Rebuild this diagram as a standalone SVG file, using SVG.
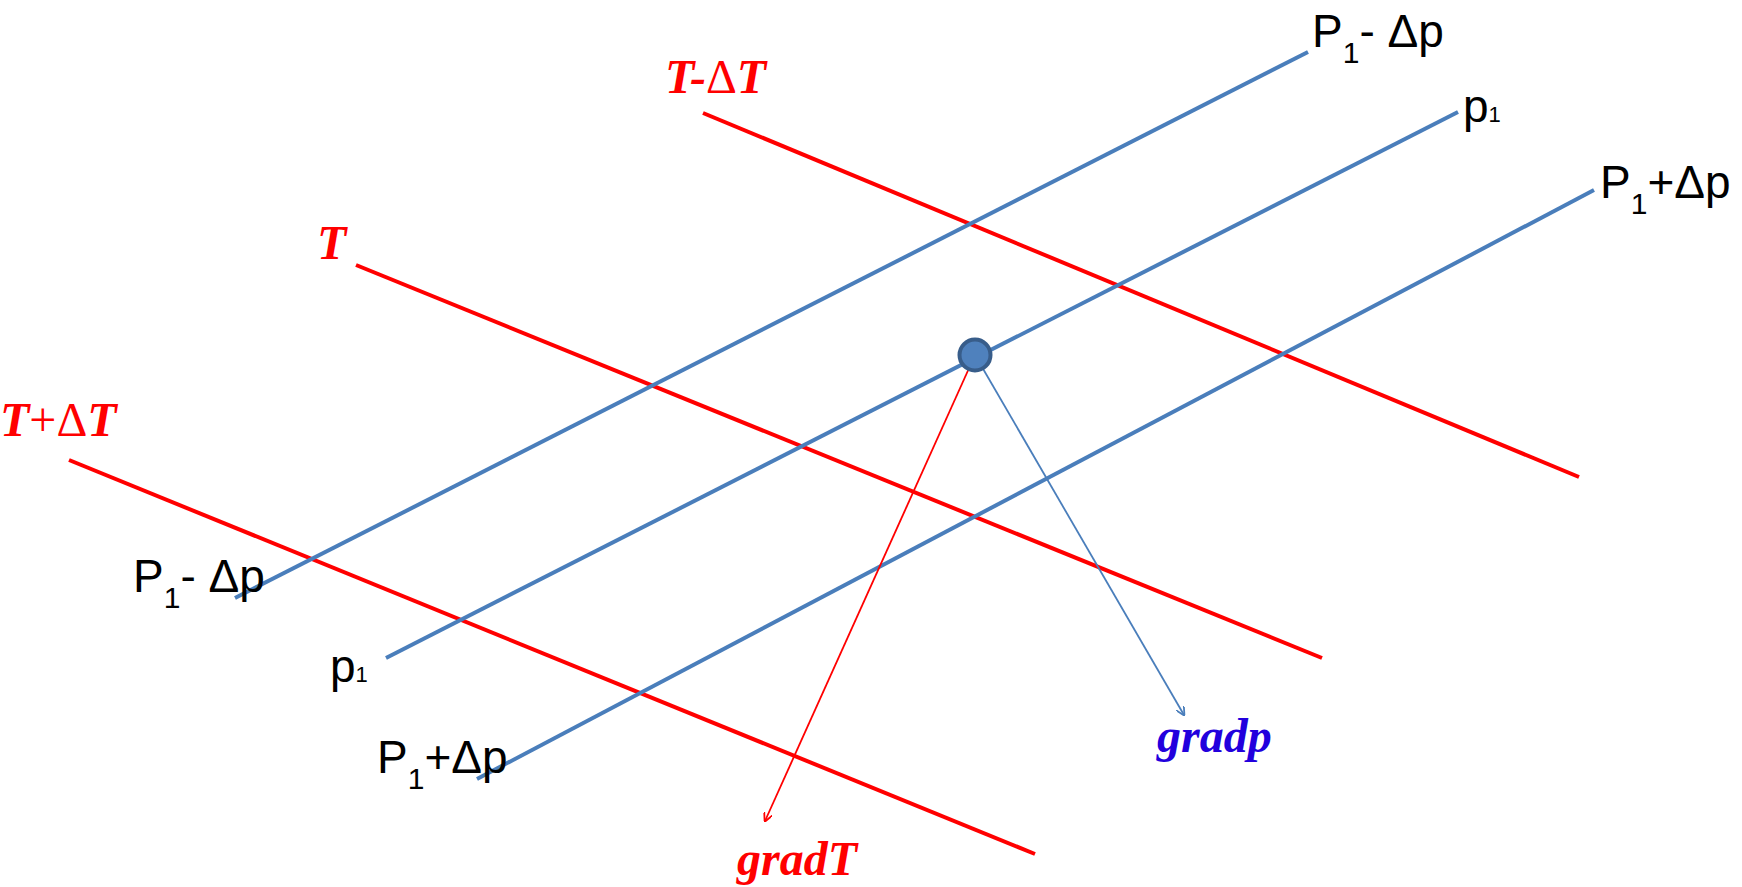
<svg xmlns="http://www.w3.org/2000/svg" width="1742" height="887" viewBox="0 0 1742 887">
<style>
.red{stroke:#ff0000;stroke-width:4;fill:none}
.blue{stroke:#4a7ebb;stroke-width:4;fill:none}
.lbl{font-family:"Liberation Sans",Arial,sans-serif;font-size:46px;fill:#000}
.sub{font-size:30px}
.tl{font-family:"Liberation Serif","Times New Roman",serif;font-size:48px;font-weight:bold;font-style:italic;fill:#ff0000}
.up{font-style:normal;font-weight:normal}
</style>
<defs>
<marker id="ar" viewBox="0 0 10 10" refX="9" refY="5" markerWidth="9" markerHeight="9" markerUnits="userSpaceOnUse" orient="auto"><path d="M0,0 L10,5 L0,10" fill="none" stroke="#ff0000" stroke-width="2"/></marker>
<marker id="ab" viewBox="0 0 10 10" refX="9" refY="5" markerWidth="9" markerHeight="9" markerUnits="userSpaceOnUse" orient="auto"><path d="M0,0 L10,5 L0,10" fill="none" stroke="#4a7ebb" stroke-width="2"/></marker>
</defs>
<g id="isotherms">
<line class="red" x1="703" y1="113" x2="1579" y2="477"/>
<line class="red" x1="356" y1="265" x2="1322" y2="658"/>
<line class="red" x1="69" y1="460" x2="1035" y2="854"/>
</g>
<g id="isobars">
<line class="blue" x1="235" y1="598" x2="1308" y2="52"/>
<line class="blue" x1="386" y1="658" x2="1458" y2="112"/>
<line class="blue" x1="477" y1="779" x2="1594" y2="190"/>
</g>
<g id="connectors">
<line x1="975" y1="355" x2="765" y2="821" stroke="#ff0000" stroke-width="1.8" marker-end="url(#ar)"/>
<line x1="975" y1="355" x2="1184" y2="715" stroke="#4a7ebb" stroke-width="1.8" marker-end="url(#ab)"/>
</g>
<g id="point">
<circle cx="975" cy="355" r="15.5" fill="#4f81bd" stroke="#385d8a" stroke-width="4"/>
</g>
<g id="labels-p">
<text class="lbl" x="1312" y="47">P<tspan class="sub" dy="16">1</tspan><tspan dy="-16">- Δp</tspan></text>
<text class="lbl" x="1463" y="122" font-size="44">p<tspan font-size="22">1</tspan></text>
<text class="lbl" x="1600" y="198">P<tspan class="sub" dy="16">1</tspan><tspan dy="-16">+Δp</tspan></text>
<text class="lbl" x="133" y="592">P<tspan class="sub" dy="16">1</tspan><tspan dy="-16">- Δp</tspan></text>
<text class="lbl" x="330" y="682" font-size="44">p<tspan font-size="22">1</tspan></text>
<text class="lbl" x="377" y="773">P<tspan class="sub" dy="16">1</tspan><tspan dy="-16">+Δp</tspan></text>
</g>
<g id="labels-t">
<text class="tl" x="665" y="93">T-<tspan class="up">Δ</tspan>T</text>
<text class="tl" x="317" y="259">T</text>
<text class="tl" x="0" y="436">T<tspan class="up">+Δ</tspan>T</text>
<text class="tl" x="737" y="875">gradT</text>
<text class="tl" x="1157" y="752" style="fill:#2200dd">gradp</text>
</g>
</svg>
